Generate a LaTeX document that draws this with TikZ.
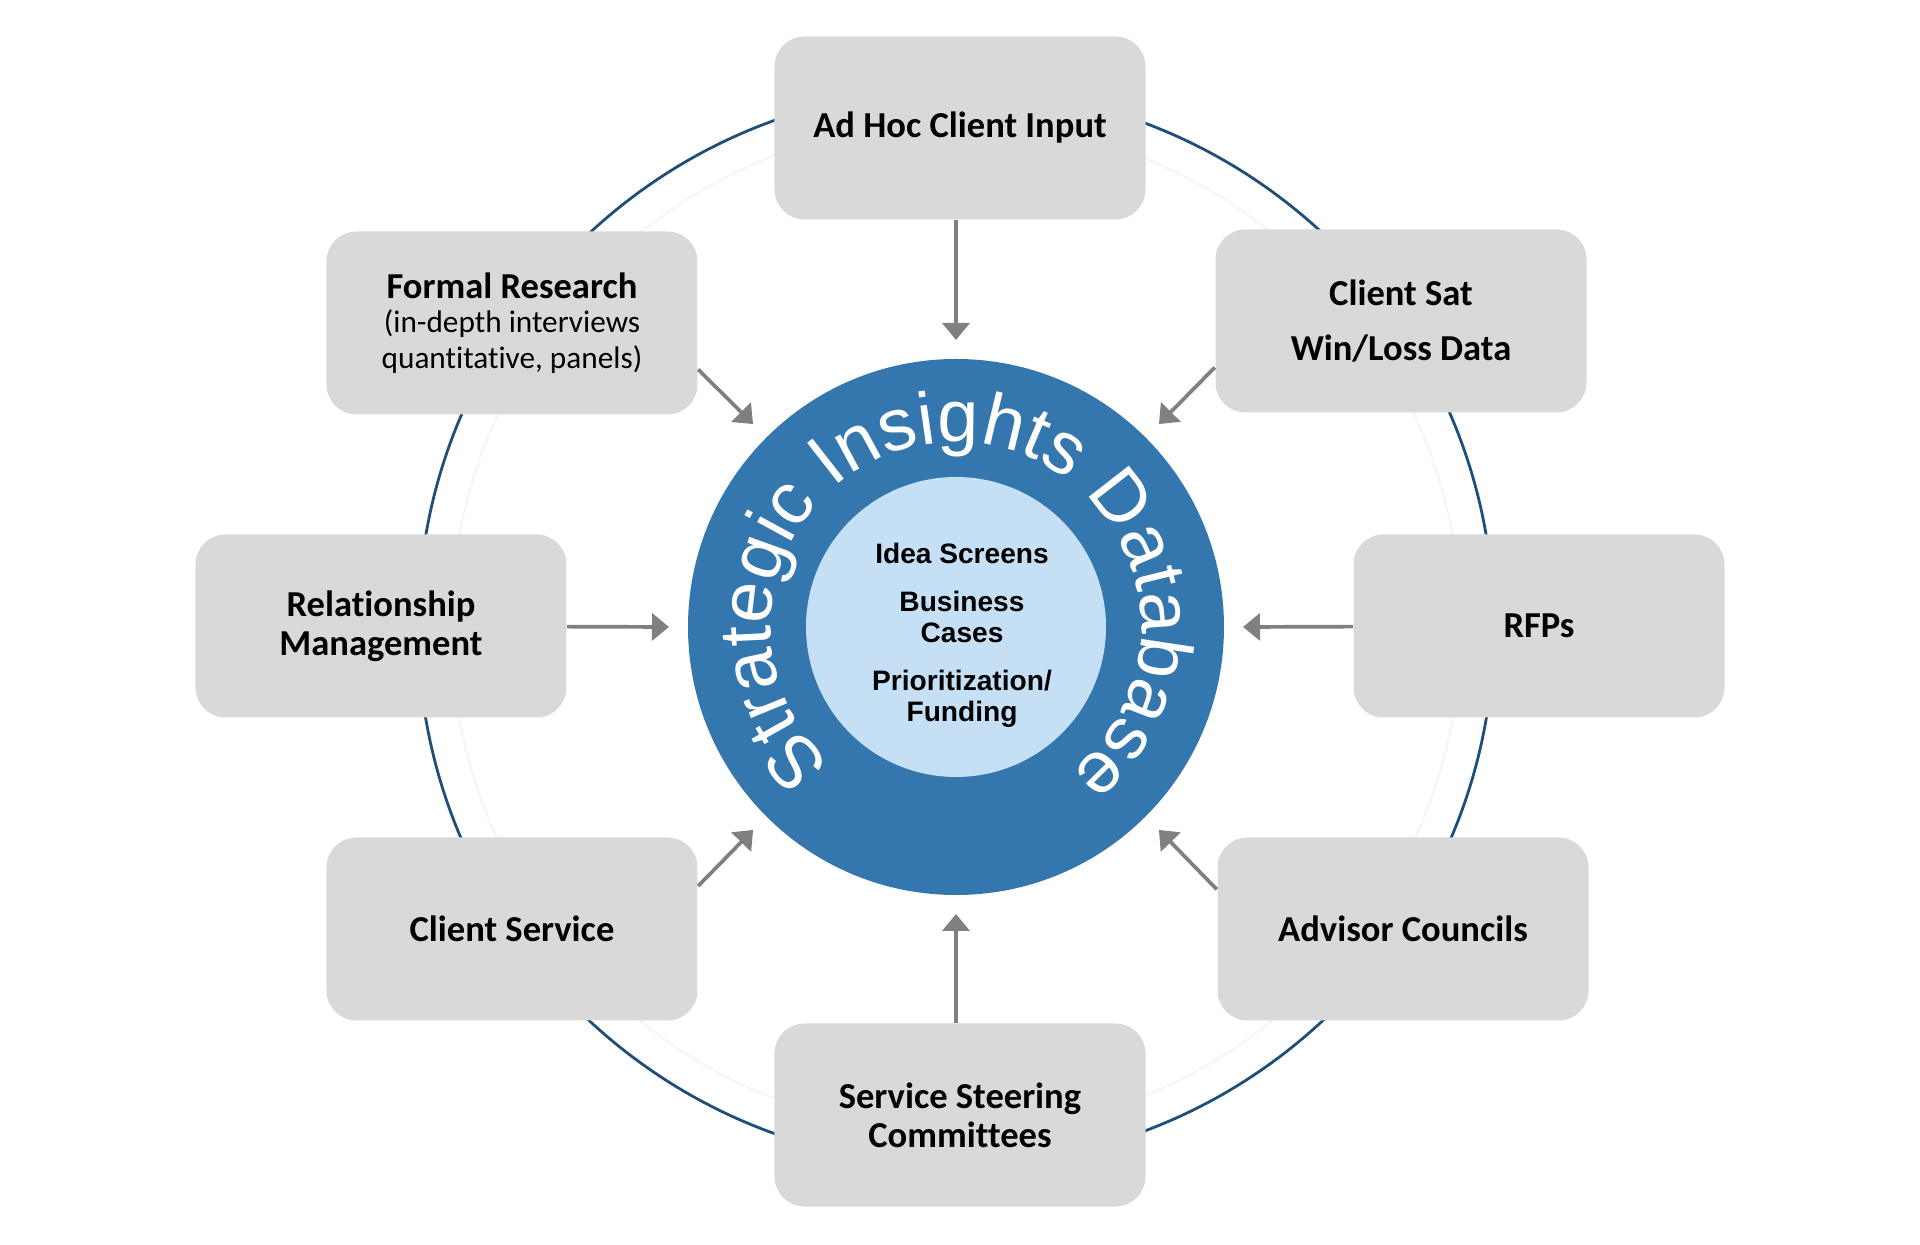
\documentclass[tikz,border=0pt]{standalone}
\usepackage{fontspec}
\setmainfont[Ligatures=NoCommon]{Carlito}
\newfontfamily\arialfont{Liberation Sans}
\usetikzlibrary{arrows.meta,decorations.text}
\definecolor{boxgray}{RGB}{217,217,217}
\definecolor{hubblue}{RGB}{52,118,174}
\definecolor{corefill}{RGB}{197,223,245}
\definecolor{ringnavy}{RGB}{31,78,121}
\definecolor{arrowgray}{RGB}{128,128,128}
\newcommand\subtxt{\mdseries\fontsize{8.9}{9.8}\selectfont}

\begin{document}
\begin{tikzpicture}[line join=round, >={Triangle[width=0.27cm,length=0.17cm]},
	src/.style={rectangle, rounded corners=0.3cm, fill=boxgray, minimum width=3.71cm, minimum height=1.83cm, inner sep=0pt, align=center, font=\fontsize{10.4}{11.1}\selectfont\bfseries},
	feed/.style={->, draw=arrowgray, line width=0.037cm}]
	\def\rtip{2.87}\def\rring{5.38}
	\useasboundingbox (-9.56,-6.18) rectangle (9.64,6.27);
	% ring behind the boxes
	\draw[black!4, line width=0.02cm] (0,0) circle (5.05);
	\draw[ringnavy, line width=0.028cm] (0,0) circle (\rring);
	\node[circle, fill=hubblue, minimum size=5.36cm, inner sep=0pt] (hub) at (0,0) {};
	\node[circle, fill=corefill, minimum size=3cm, inner sep=0pt] (core) at (hub) {};
	\node[align=center, inner sep=0pt, font=\arialfont\bfseries\fontsize{8}{8.8}\selectfont] (coretext) at (0.06,-0.085) {Idea Screens\\[4.8pt]Business\\Cases\\[4.8pt]Prioritization/\\Funding};
	\path[decorate, decoration={text along path, text align=center, text color=white, text={|\arialfont\fontsize{21}{25}\selectfont|Strategic Insights Database}}] (234:1.85) arc[start angle=234, end angle=-58, radius=1.85];
	% sources
	\node[src] (adhoc) at (0.04,4.99) {Ad Hoc Client Input};
	\node[src] (formal) at (-4.44,3.04) {Formal Research\\[-1.3pt]\subtxt(in-depth interviews\\[-1pt]\subtxt quantitative, panels)};
	\node[src] (clientsat) at (4.45,3.06) {Client Sat\\[4.3pt]Win/Loss Data};
	\node[src] (relation) at (-5.75,0.01) {Relationship\\Management};
	\node[src] (rfps) at (5.83,0.01) {RFPs};
	\node[src] (service) at (-4.44,-3.02) {Client Service};
	\node[src] (advisor) at (4.47,-3.02) {Advisor Councils};
	\node[src] (steering) at (0.04,-4.88) {Service Steering\\Committees};
	\foreach \a in {0,45,...,315} \coordinate (t\a) at (\a:\rtip);
	\draw[feed] (adhoc.south -| t90) -- (t90);
	\draw[feed] (formal.-14) -- (t135);
	\draw[feed] (clientsat.194) -- (t45);
	\draw[feed] (relation) -- (t180);
	\draw[feed] (rfps) -- (t0);
	\draw[feed] (service.13) -- (t225);
	\draw[feed] (advisor.168) -- (t315);
	\draw[feed] (steering.north -| t270) -- (t270);
\end{tikzpicture}
\end{document}
